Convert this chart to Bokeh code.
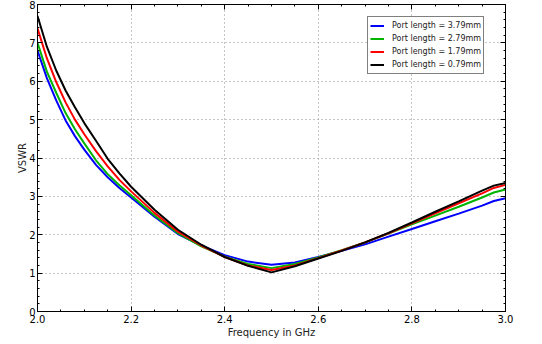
from bokeh.plotting import figure
from bokeh.models import Range1d, LinearAxis, SingleIntervalTicker, Legend, LegendItem
from bokeh.embed import file_html
from bokeh.resources import INLINE

freq = [2.0, 2.02, 2.04, 2.06, 2.08, 2.1, 2.125, 2.15, 2.175, 2.2, 2.25, 2.3, 2.35,
        2.4, 2.45, 2.5, 2.55, 2.6, 2.65, 2.7, 2.75, 2.8, 2.85, 2.9, 2.95, 2.975, 3.0]
vswr_379 = [6.8, 6.08, 5.5, 4.98, 4.57, 4.22, 3.82, 3.5, 3.22, 2.97, 2.47, 2.02, 1.72,
            1.47, 1.3, 1.22, 1.28, 1.42, 1.58, 1.75, 1.95, 2.15, 2.35, 2.55, 2.76, 2.88, 2.95]
vswr_279 = [7.0, 6.25, 5.7, 5.17, 4.75, 4.38, 3.94, 3.58, 3.29, 3.03, 2.5, 2.04, 1.7,
            1.43, 1.24, 1.13, 1.24, 1.41, 1.6, 1.8, 2.03, 2.27, 2.5, 2.73, 2.97, 3.1, 3.18]
vswr_179 = [7.38, 6.6, 5.98, 5.45, 5.0, 4.62, 4.18, 3.78, 3.43, 3.13, 2.57, 2.08, 1.72,
            1.42, 1.2, 1.08, 1.2, 1.39, 1.59, 1.8, 2.04, 2.3, 2.56, 2.82, 3.08, 3.22, 3.3]
vswr_079 = [7.7, 6.9, 6.28, 5.76, 5.32, 4.91, 4.45, 3.98, 3.6, 3.25, 2.65, 2.13, 1.74,
            1.42, 1.19, 1.02, 1.18, 1.38, 1.58, 1.8, 2.05, 2.32, 2.6, 2.87, 3.15, 3.28, 3.35]
labels = ["Port length = 3.79mm", "Port length = 2.79mm",
          "Port length = 1.79mm", "Port length = 0.79mm"]
colors = ["#0000ff", "#00b400", "#ff0000", "#000000"]
series = [vswr_379, vswr_279, vswr_179, vswr_079]

FONT = "DejaVu Sans"

p = figure(width=542, height=344, output_backend="svg", toolbar_location=None,
           x_range=Range1d(2.0, 3.0), y_range=Range1d(0, 8),
           min_border_left=37, min_border_right=37, min_border_top=4, min_border_bottom=33)
p.outline_line_color = "black"
p.outline_line_width = 1
p.background_fill_color = "white"
p.border_fill_color = "white"

p.xaxis.ticker = SingleIntervalTicker(interval=0.2, num_minor_ticks=4)
p.yaxis.ticker = SingleIntervalTicker(interval=1, num_minor_ticks=5)
p.xaxis.major_label_overrides = {2.0: "2.0", 3.0: "3.0"}
p.xaxis.axis_label = "Frequency in GHz"
p.yaxis.axis_label = "VSWR"

for ax in (p.xaxis[0], p.yaxis[0]):
    ax.axis_line_color = "black"
    ax.major_tick_in = 5
    ax.major_tick_out = 0
    ax.minor_tick_in = 2
    ax.minor_tick_out = 0
    ax.major_tick_line_color = "black"
    ax.minor_tick_line_color = "black"
    ax.major_label_text_font = FONT
    ax.major_label_text_font_size = "10px"
    ax.major_label_text_color = "black"
    ax.axis_label_text_font = FONT
    ax.axis_label_text_font_size = "10px"
    ax.axis_label_text_font_style = "normal"
    ax.axis_label_text_color = "#222222"
p.xaxis.major_label_standoff = 3
p.xaxis.axis_label_standoff = 1
p.yaxis.major_label_standoff = 2
p.yaxis.axis_label_standoff = -2

top = LinearAxis(ticker=SingleIntervalTicker(interval=0.2, num_minor_ticks=4))
right = LinearAxis(ticker=SingleIntervalTicker(interval=1, num_minor_ticks=5))
for ax in (top, right):
    ax.major_label_text_font_size = "1px"
    ax.major_label_text_color = None
    ax.major_label_standoff = 0
    ax.major_tick_in = 5
    ax.major_tick_out = 0
    ax.minor_tick_in = 2
    ax.minor_tick_out = 0
    ax.axis_line_color = "black"
p.add_layout(top, "above")
p.add_layout(right, "right")

for g in (p.xgrid[0], p.ygrid[0]):
    g.grid_line_color = "#8c8c8c"
    g.grid_line_dash = "1 3"
    g.grid_line_width = 1

items = []
for ys, c, lab in zip(series, colors, labels):
    r = p.line(freq, ys, line_color=c, line_width=2)
    items.append(LegendItem(label=lab, renderers=[r]))

legend = Legend(items=items, location=(330, 237))
legend.label_text_font = FONT
legend.label_text_font_size = "8px"
legend.label_text_color = "#222222"
legend.glyph_height = 13
legend.label_height = 13
legend.glyph_width = 14
legend.spacing = 0
legend.padding = 2
legend.margin = 0
legend.label_standoff = 8
legend.border_line_color = "black"
legend.border_line_width = 1
legend.background_fill_color = "white"
legend.background_fill_alpha = 1
p.add_layout(legend, "center")

open("out.html", "w").write(file_html(p, INLINE))
